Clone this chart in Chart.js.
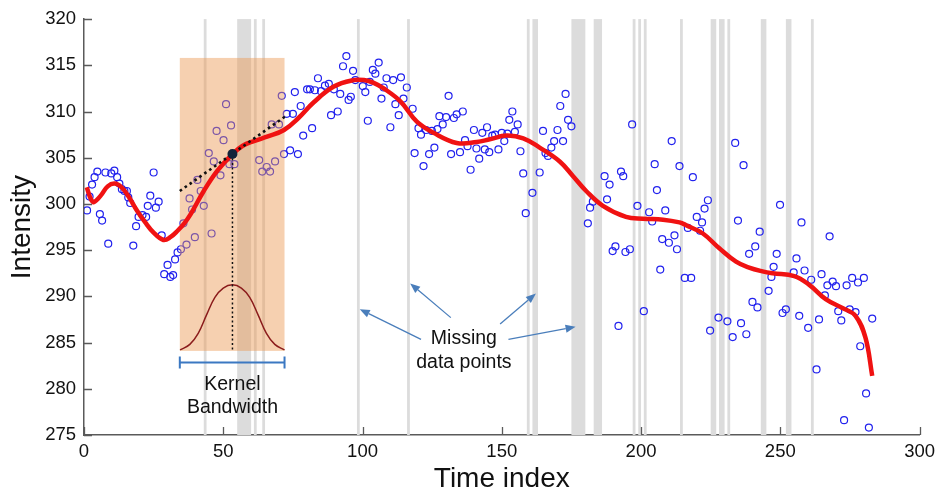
<!DOCTYPE html>
<html><head><meta charset="utf-8">
<script src="https://cdn.jsdelivr.net/npm/chart.js@4.4.1/dist/chart.umd.min.js"></script>
<style>html,body{margin:0;padding:0;background:#fff;} #wrap{width:941px;height:493px;}</style>
</head><body><div id="wrap"><canvas id="c" width="941" height="493"></canvas></div>
<script>
// ---------- data ----------
const pointX = [1.1,2,2.9,3.8,4.8,5.7,6.5,7.7,8.7,9.8,10.9,11.9,12.7,13.6,14.5,15.4,15.9,16.6,17.7,18.7,19.6,21,22.3,22.9,23.8,25,25.8,26.8,27.9,28.8,30,31,32,32.7,33.6,34.8,35.7,36.8,37.9,38.8,39.8,40.7,41.9,43,44.8,45.8,46.6,47.6,
 49,50.1,51,52.2,52.8,54,62.9,64,65.6,66.8,67.4,68.6,70,71,71.8,72.8,74,75,75.7,76.8,77.8,78.7,80.1,81.1,81.9,82.9,84,85.1,86.5,87.9,88.7,89.7,91.1,92,93,94.2,95,95.8,96.6,
 97.4,100.1,101,101.9,102.6,103.7,104.6,105.8,106.8,107.6,108.6,110,111,111.8,113,113.8,114.7,115.9,118,118.7,120.1,121,121.9,122.8,123.9,124.9,125.8,126.9,127.6,128.8,130,130.9,131.8,132.8,133.8,135,136,136.8,137.7,138.8,140,140.9,141.9,143,143.9,144.7,145.5,
 146.6,147.6,148.8,150,150.9,152,152.7,153.8,154.7,155.7,156.7,157.7,158.6,161,163.6,164.8,165.7,166.6,167.8,168.8,170,171,172,172.9,173.8,175,180.9,181.7,182.7,186.9,187.8,188.7,189.8,190.8,191.9,192.8,193.6,194.4,
 196,196.8,198.7,201,202.9,204,204.9,205.7,206.9,207.6,208.7,210,211,212,212.9,213.8,215.7,216.8,218,218.6,220,221.2,221.9,222.8,224,224.8,227.8,231,232.9,233.8,234.8,235.9,236.8,237.8,238.8,240,241,241.8,242.6,
 245.8,246.8,247.6,248.7,249.9,250.8,252,254.8,255.8,256.8,257.6,258.7,260,261.1,263,263.9,264.8,266,266.9,267.7,268.8,270,270.8,271.9,272.9,273.8,274.9,275.8,277,277.9,278.7,280,280.8,281.8,283];
const pointY = [299.3,300.8,302.1,302.9,303.5,298.9,298.2,303.4,295.7,303.3,303.6,302.9,302.2,301.6,301.4,301.4,300.7,300.1,295.5,297.6,298.6,298.8,298.6,299.8,300.9,303.4,299.6,300.25,296.6,292.4,293.4,292.1,292.3,294,294.75,295.1,297.9,295.6,300.6,299.4,296.4,302.6,301.4,299.8,305.5,296.8,304.6,307.9,
 303.1,306.9,310.8,304.3,308.5,304.3,304.75,303.5,304,303.5,308.6,304.6,308.6,311.7,305.4,309.75,305.8,309.75,312.1,305.4,310.6,307.4,312.4,312.4,308.2,312.3,313.6,312.2,312.8,313,309.6,312.4,310,311.9,314.9,316,311.25,311.6,314.4,
 313.4,312.75,312.1,309,313.2,314.5,314.1,315.3,311.4,312.6,313.6,308.3,313.4,310.8,309.6,313.7,311.4,312.6,310.3,305.5,308.2,307.5,304.1,308,305.4,307.9,306.1,308.1,309.5,308.6,309.4,311.7,305.4,309.3,309.7,305.6,310,306.9,306.25,303.7,308,306,304.9,307.7,305.9,308.3,305.6,
 307.4,307.5,305.9,307.7,306.8,307.6,309.1,310,307.8,308.6,305.7,303.3,299,301.2,303.4,307.9,305.5,305.2,306.1,306.8,308,310.6,306.8,311.9,309.1,308.4,297.9,299.6,300.25,303,300.5,302.1,294.9,295.4,286.8,303.5,303,294.8,
 295.1,308.6,299.8,288.4,299.1,298.1,304.3,301.5,292.9,296.2,299.3,295.8,306.8,296.6,295.1,304.1,292,297.4,292,302.9,298.6,297.1,298,299.5,300.4,286.3,287.7,287.3,285.6,306.6,298.2,287.1,304.2,285.9,294.6,289.4,295.4,288.8,297,
 290.6,292.1,293.2,294.6,299.9,288.2,288.6,292.6,294.1,287.9,298,292.8,286.6,291.8,282.1,287.5,292.4,290.1,291.2,296.5,291.6,291.1,288.4,287.4,276.6,291.2,288.6,292,288.3,291.5,284.6,292,279.5,275.8,287.6];

const curveX = [1,2.5,3.5,6,8.5,11,13.5,16,19,22,25,28.5,31,33.6,36,38.3,43,47.9,53.3,57,61,66,71.8,77,82.5,89.7,96.8,100.5,104,107.6,113.6,119.5,125.5,133.8,141,145.7,151.7,157.7,163.6,170.8,175.6,180.3,186.3,194.6,200.7,207.9,213.8,216.2,222.2,228.1,234.1,238.8,243.6,247.3,255,260.4,266.3,272.3,277,280.6,283];
const curveY = [301.8,300.5,300.2,300.9,301.9,302.2,301.8,300.8,299.3,298,296.9,296.1,296.4,297.1,297.9,298.9,301.4,303.6,305.4,306.3,306.8,307.3,308,309.3,311,312.7,313.4,313.4,313.1,312.5,311.1,308.9,307.7,306.6,306.7,307,307.4,307.1,306.1,304.6,303,301.4,299.8,298.6,298.4,298.3,298,297.7,296.8,295.2,293.75,293.1,292.7,292.5,292.2,291.25,289.7,288.75,287.9,285.5,281.4];

// time indices with no observation (shaded bands)
const missingIdx = [43,55,56,57,58,59,61,64,98,116,159,161,162,175,176,177,178,179,183,184,185,197,199,201,214,225,226,228,229,231,243,244,252,253,261];

const xTicks = [0,50,100,150,200,250,300];
const yTicks = [275,280,285,290,295,300,305,310,315,320];

// kernel illustration
const kernelCenter = 53.3, kernelValue = 305.4;
const kernelWindow = [34.4, 72];
const kernelTop = 315.8, kernelBase = 284.1;
const kernelShapeX = [34.5,38,41,44,47,50,53.3,56.5,59.5,62.5,65.5,68.5,72];
const kernelShapeY = [284.2,284.8,286.0,288.0,289.9,290.9,291.25,290.9,289.9,288.0,286.0,284.8,284.2];
const tangentX = [34.4, 72.4];
const tangentY = [301.4, 309.5];
const bracketY = 282.85;

// annotation texts (data coordinates)
const labels = [
  {t:'Kernel', x:53.3, y:279.9},
  {t:'Bandwidth', x:53.3, y:277.35},
  {t:'Missing', x:136.4, y:284.8},
  {t:'data points', x:136.4, y:282.3}
];
const arrows = [
  {x1:121, y1:285.35, x2:99, y2:288.6},
  {x1:131.7, y1:287.7, x2:117.1, y2:291.4},
  {x1:149.4, y1:287.0, x2:162.25, y2:290.3},
  {x1:152.4, y1:285.35, x2:176.5, y2:286.7}
];

// ---------- chart ----------
const FONT = '"Liberation Sans", Arial, Helvetica, sans-serif';
const xy = (xs, ys) => xs.map((x,i)=>({x, y: ys[i]}));
const CURVE = 1;

// group consecutive missing indices into runs
function runs(idx){
  const out = [];
  idx.forEach(i=>{
    const last = out[out.length-1];
    if (last && last[1] === i) last[1] = i+1; else out.push([i, i+1]);
  });
  return out;
}

const decor = {
  id: 'decor',
  beforeDatasetsDraw(chart){
    const {ctx, chartArea:a, scales:{x}} = chart;
    ctx.save();
    ctx.fillStyle = '#dcdcdc';
    runs(missingIdx).forEach(([s,e])=>{
      const p0 = x.getPixelForValue(s), p1 = x.getPixelForValue(e);
      ctx.fillRect(p0, a.top, p1-p0, a.bottom-a.top);
    });
    ctx.restore();
  },
  beforeDatasetDraw(chart, args){
    if (args.index !== CURVE) return;
    const {ctx, scales:{x,y}} = chart;
    const l = x.getPixelForValue(kernelWindow[0]), r = x.getPixelForValue(kernelWindow[1]);
    const t = y.getPixelForValue(kernelTop), b = y.getPixelForValue(kernelBase);
    ctx.save();
    ctx.fillStyle = 'rgba(236,150,80,0.45)';
    ctx.fillRect(l, t, r-l, b-t);
    ctx.restore();
  },
  afterDatasetsDraw(chart){
    const {ctx, scales:{x,y}} = chart;
    ctx.save();
    const l = x.getPixelForValue(kernelWindow[0]), r = x.getPixelForValue(kernelWindow[1]);
    const by = y.getPixelForValue(bracketY);
    ctx.strokeStyle = '#3b78c2'; ctx.lineWidth = 2;
    ctx.beginPath();
    ctx.moveTo(l, by); ctx.lineTo(r, by);
    ctx.moveTo(l, by-6); ctx.lineTo(l, by+6);
    ctx.moveTo(r, by-6); ctx.lineTo(r, by+6);
    ctx.stroke();
    ctx.strokeStyle = '#4a7ebb'; ctx.fillStyle = '#4a7ebb'; ctx.lineWidth = 1.3;
    arrows.forEach(A=>{
      const x1=x.getPixelForValue(A.x1), y1=y.getPixelForValue(A.y1);
      const x2=x.getPixelForValue(A.x2), y2=y.getPixelForValue(A.y2);
      const ang = Math.atan2(y2-y1, x2-x1);
      const hl = 10, hw = 4;
      const bx = x2 - hl*Math.cos(ang), byy = y2 - hl*Math.sin(ang);
      ctx.beginPath(); ctx.moveTo(x1,y1); ctx.lineTo(bx,byy); ctx.stroke();
      ctx.beginPath();
      ctx.moveTo(x2,y2);
      ctx.lineTo(bx + hw*Math.sin(ang), byy - hw*Math.cos(ang));
      ctx.lineTo(bx - hw*Math.sin(ang), byy + hw*Math.cos(ang));
      ctx.closePath(); ctx.fill();
    });
    ctx.fillStyle = '#111';
    ctx.font = '19.5px ' + FONT;
    ctx.textAlign = 'center'; ctx.textBaseline = 'alphabetic';
    labels.forEach(L=>ctx.fillText(L.t, x.getPixelForValue(L.x), y.getPixelForValue(L.y)));
    ctx.restore();
  },
  afterDraw(chart){
    const {ctx, chartArea:a, scales:{x,y}} = chart;
    ctx.save();
    ctx.strokeStyle = '#5a5a5a'; ctx.lineWidth = 1.3;
    ctx.beginPath();
    yTicks.forEach(v=>{const p=Math.round(y.getPixelForValue(v))+0.5; ctx.moveTo(a.left,p); ctx.lineTo(a.left+8,p);});
    xTicks.forEach(v=>{const p=Math.round(x.getPixelForValue(v))+0.5; ctx.moveTo(p,a.bottom); ctx.lineTo(p,a.bottom-8);});
    ctx.stroke();
    ctx.restore();
  }
};

new Chart(document.getElementById('c'), {
  type: 'scatter',
  data: { datasets: [
    { type:'scatter', data: xy(pointX, pointY), pointStyle:'circle', pointRadius:3.5, borderWidth:1.2,
      borderColor:'#2222ee', backgroundColor:'rgba(0,0,0,0)', order: 10 },
    { type:'line', data: xy(curveX, curveY), borderColor:'#f01212', borderWidth:4.5, pointRadius:0,
      tension:0.4, fill:false, order: 5 },
    { type:'line', data: xy(kernelShapeX, kernelShapeY), borderColor:'#8b1c1c', borderWidth:1.5, pointRadius:0,
      tension:0.4, fill:false, order: 3 },
    { type:'line', data: xy(tangentX, tangentY), borderColor:'#111', borderWidth:2.6, borderDash:[2.6,3.4],
      pointRadius:0, fill:false, order: 2 },
    { type:'line', data: [{x:kernelCenter, y:kernelValue},{x:kernelCenter, y:kernelBase}], borderColor:'#111',
      borderWidth:1.5, borderDash:[2,2.5], pointRadius:0, fill:false, order: 2 },
    { type:'scatter', data: [{x:kernelCenter, y:kernelValue}], pointRadius:5, borderWidth:0,
      backgroundColor:'#13233a', order: 1 }
  ]},
  options: {
    responsive:false, animation:false, events:[],
    layout: { padding: { top:15, right:17, left:0, bottom:0 } },
    plugins: { legend:{display:false}, tooltip:{enabled:false} },
    scales: {
      x: { type:'linear', min:0, max:300,
        afterBuildTicks: s => { s.ticks = xTicks.map(v=>({value:v})); },
        afterFit: s => { s.height = 58; },
        grid: { display:false, drawTicks:false },
        border: { display:true, color:'#5a5a5a', width:1.5 },
        ticks: { padding:6, color:'#111', font:{ family:FONT, size:18.5 }, maxRotation:0 },
        title: { display:true, text:'Time index', color:'#111', font:{ family:FONT, size:28, lineHeight:1 },
          padding:{ top:0, bottom:0 } }
      },
      y: { type:'linear', min:275, max:320,
        afterBuildTicks: s => { s.ticks = yTicks.map(v=>({value:v})); },
        afterFit: s => { s.width = 84; },
        grid: { display:false, drawTicks:false },
        border: { display:true, color:'#5a5a5a', width:1.5 },
        ticks: { padding:8, color:'#111', font:{ family:FONT, size:18.5 } },
        title: { display:true, text:'Intensity', color:'#111', font:{ family:FONT, size:28, lineHeight:1 },
          padding:{ top:8, bottom:0 } }
      }
    }
  },
  plugins: [decor]
});
</script>
</body></html>
